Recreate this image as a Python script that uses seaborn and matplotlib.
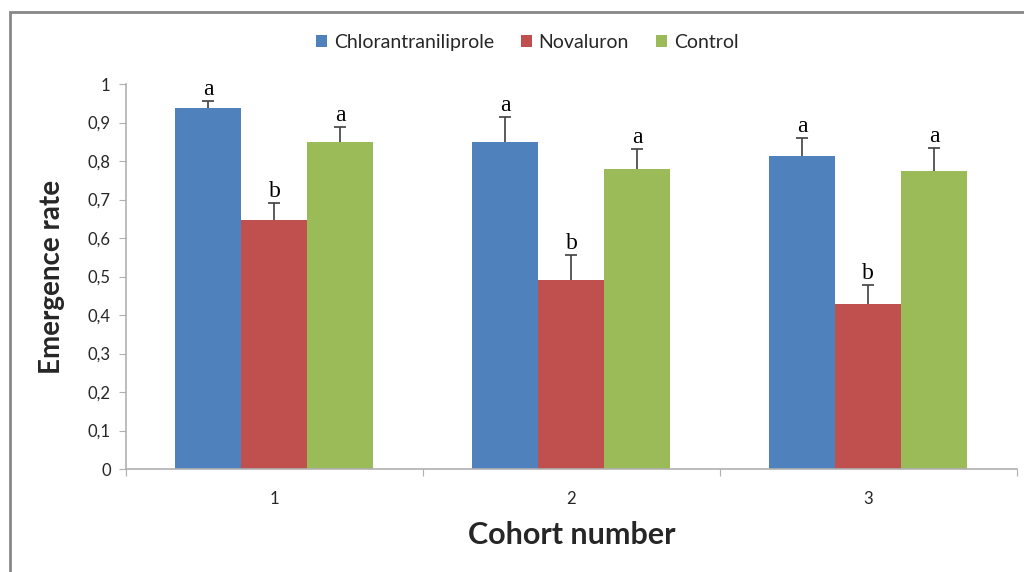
import matplotlib
matplotlib.use("Agg")
import matplotlib.pyplot as plt
import numpy as np
import pandas as pd
import seaborn as sns
from matplotlib.patches import Rectangle

cohorts = ["1", "2", "3"]
treatments = ["Chlorantraniliprole", "Novaluron", "Control"]
colors = ["#4F81BD", "#C0504D", "#9BBB59"]

chlor = [0.938, 0.849, 0.813]
noval = [0.647, 0.492, 0.429]
control = [0.849, 0.779, 0.774]

chlor_err = [0.018, 0.065, 0.047]
noval_err = [0.044, 0.064, 0.049]
control_err = [0.039, 0.052, 0.060]

chlor_sig = ["a", "a", "a"]
noval_sig = ["b", "b", "b"]
control_sig = ["a", "a", "a"]

y_ticks = [0, 0.1, 0.2, 0.3, 0.4, 0.5, 0.6, 0.7, 0.8, 0.9, 1]
y_tick_labels = ["0", "0,1", "0,2", "0,3", "0,4", "0,5", "0,6", "0,7", "0,8", "0,9", "1"]

df = pd.DataFrame({
    "Cohort": cohorts * 3,
    "Treatment": [t for t in treatments for _ in cohorts],
    "Rate": chlor + noval + control,
    "Err": chlor_err + noval_err + control_err,
    "Sig": chlor_sig + noval_sig + control_sig,
})

sns.set_style("white")
plt.rcParams["font.family"] = ["Lato", "DejaVu Sans"]

fig = plt.figure(figsize=(10.24, 5.72), dpi=100)
ax = fig.add_axes([0.123, 0.180, 0.870, 0.673])

sns.barplot(data=df, x="Cohort", y="Rate", hue="Treatment", order=cohorts,
            hue_order=treatments, palette=colors, width=0.667, errorbar=None,
            saturation=1, ax=ax, linewidth=0)

# error bars (upper only, cap on top) and significance letters
bars = [p for p in ax.patches if p.get_height() > 0]
for bar, (_, row) in zip(bars, df.iterrows()):
    cx = bar.get_x() + bar.get_width() / 2
    h = bar.get_height()
    top = h + row["Err"]
    ax.vlines(cx, h, top, color="#404040", linewidth=1.2)
    ax.plot([cx], [top], marker="_", markersize=9, markeredgewidth=1.2, color="#404040")
    ax.text(cx, top + 0.003, row["Sig"], ha="center", va="bottom",
            fontsize=17, family="Liberation Serif", color="black")

ax.set_ylim(0, 1)
ax.set_yticks(y_ticks)
ax.set_yticklabels(y_tick_labels, fontsize=12)
ax.set_xlim(-0.5, 2.5)
ax.set_xticks([-0.5, 0.5, 1.5, 2.5])
ax.set_xticklabels([])
ax.set_xticks([0, 1, 2], minor=True)
ax.set_xticklabels(cohorts, minor=True, fontsize=12)
ax.tick_params(axis="x", which="major", length=5, color="#b0b0b0", direction="out", bottom=True)
ax.tick_params(axis="x", which="minor", length=0, pad=16)
ax.tick_params(axis="y", length=5, color="#b0b0b0", direction="out", left=True, pad=6)

for s in ["top", "right"]:
    ax.spines[s].set_visible(False)
for s in ["left", "bottom"]:
    ax.spines[s].set_color("#b0b0b0")
    ax.spines[s].set_linewidth(1.2)

ax.set_xlabel("Cohort number", fontsize=22, fontweight="bold", labelpad=10)
ax.set_ylabel("Emergence rate", fontsize=20, fontweight="bold", labelpad=16)

handles, labels = ax.get_legend_handles_labels()
ax.legend(handles, labels, loc="center", bbox_to_anchor=(0.515, 0.926),
          bbox_transform=fig.transFigure, ncol=3, frameon=False, fontsize=14,
          handlelength=0.55, handleheight=0.55, handletextpad=0.35, columnspacing=1.4)

# outer chart frame (partly cropped in the original)
fig.patches.append(Rectangle((10 / 1024, -0.1), 1.2, 1 - 12 / 572 + 0.1,
                             transform=fig.transFigure, fill=False,
                             edgecolor="#888888", linewidth=2))

plt.savefig("out.png", dpi=100)
